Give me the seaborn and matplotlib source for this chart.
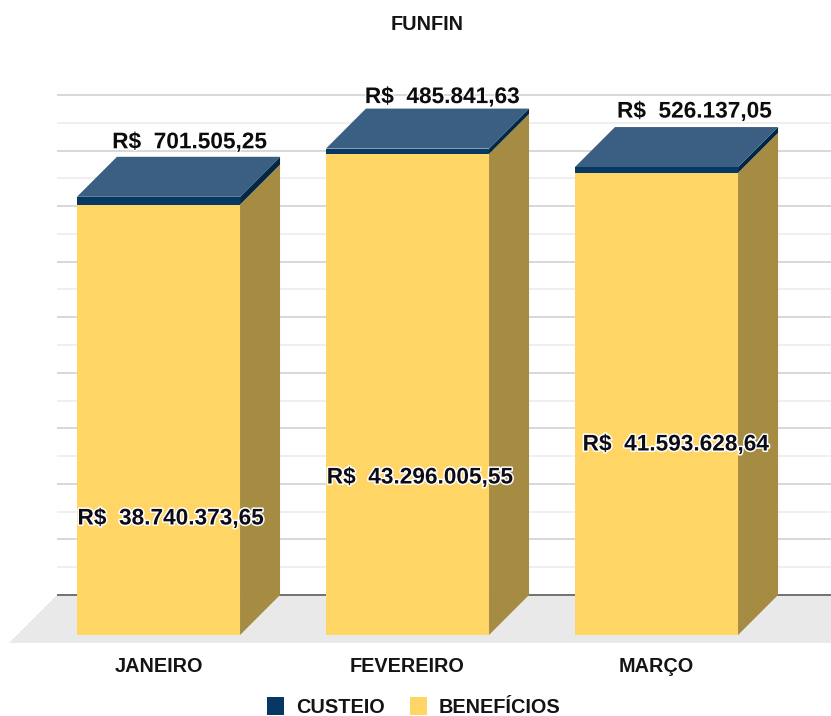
"""
FUNFIN chart: stacked bars with a painted 3D look.
"""
import numpy as np
import pandas as pd
import matplotlib
matplotlib.use("Agg")
import matplotlib.pyplot as plt
import matplotlib.patheffects as pe
from matplotlib.patches import Patch, Polygon
import seaborn as sns

months = ["JANEIRO", "FEVEREIRO", "MARÇO"]
beneficios = [38740373.65, 43296005.55, 41593628.64]
custeio = [701505.25, 485841.63, 526137.05]
grid_values = np.arange(2.5e6, 45.1e6, 2.5e6)

YELLOW = "#ffd666"
YELLOW_SIDE = "#a68c42"
NAVY = "#073763"
NAVY_TOP = "#3a5f82"
NAVY_SIDE = "#042645"

W, H = 831, 716
BASE_Y = 635        # pixel row of value 0 on the front plane
PX_PER_UNIT_Y = 11.11 / 1e6
PX_PER_BAR = 249
FIRST_CENTER = 158.5
DEPTH = 40


def brl(v):
    s = f"{v:,.2f}".replace(",", "X").replace(".", ",").replace("X", ".")
    return f"R$  {s}"


sns.set_theme(style="white")
plt.rcParams["font.family"] = ["Liberation Sans", "DejaVu Sans"]
plt.rcParams["font.weight"] = "bold"

df = pd.DataFrame({"mes": months, "beneficios": beneficios, "custeio": custeio})
df["total"] = df["beneficios"] + df["custeio"]

fig = plt.figure(figsize=(W / 100, H / 100), dpi=100)
ax = fig.add_axes([0, (H - BASE_Y) / H, 1, BASE_Y / H])

# stacked look: total underneath, benefits over it
sns.barplot(data=df, x="mes", y="total", color=NAVY, saturation=1, width=0.655, linewidth=0, ax=ax, zorder=5)
sns.barplot(data=df, x="mes", y="beneficios", color=YELLOW, saturation=1, width=0.655, linewidth=0, ax=ax, zorder=6)

ax.set_xlim(-FIRST_CENTER / PX_PER_BAR, (W - FIRST_CENTER) / PX_PER_BAR)
ax.set_ylim(0, BASE_Y / PX_PER_UNIT_Y)
dx = DEPTH / PX_PER_BAR
dy = DEPTH / PX_PER_UNIT_Y

left_wall = ax.get_xlim()[0] + 57 / PX_PER_BAR
right_wall = ax.get_xlim()[1]

# back wall grid
for i, v in enumerate(grid_values):
    ax.hlines(v + dy, left_wall, right_wall, color="#d2d2d2" if i % 2 else "#ececec", lw=1.2, zorder=1)

# floor
floor_low = -7.5 / PX_PER_UNIT_Y
floor_left = ax.get_xlim()[0] + 9 / PX_PER_BAR
ax.add_patch(Polygon([(left_wall, dy), (right_wall, dy), (right_wall, floor_low), (floor_left, floor_low)],
                     closed=True, fc="#e9e9e9", ec="none", clip_on=False, zorder=2))
ax.hlines(dy, left_wall, right_wall, color="#666666", lw=1.3, zorder=3)

# side and top faces, taken from the bars seaborn drew
n = len(months)
total_bars = ax.patches[:n]
for bar, ben in zip(total_bars, beneficios):
    x0, x1 = bar.get_x(), bar.get_x() + bar.get_width()
    top = bar.get_height()
    ax.add_patch(Polygon([(x1, 0), (x1 + dx, dy), (x1 + dx, ben + dy), (x1, ben)],
                         closed=True, fc=YELLOW_SIDE, ec="none", zorder=4))
    ax.add_patch(Polygon([(x1, ben), (x1 + dx, ben + dy), (x1 + dx, top + dy), (x1, top)],
                         closed=True, fc=NAVY_SIDE, ec="none", zorder=4))
    ax.add_patch(Polygon([(x0, top), (x0 + dx, top + dy), (x1 + dx, top + dy), (x1, top)],
                         closed=True, fc=NAVY_TOP, ec="none", zorder=4))

# value labels, pixel nudges from the bar centre
top_shift = [(31, 15), (35, 12), (38, 16)]
ben_shift = [(12.5, 117), (12.5, 158), (19.5, 191)]
halo = [pe.withStroke(linewidth=2.2, foreground="white")]
for i, (ben, cus, total) in enumerate(zip(beneficios, custeio, df["total"])):
    ax.annotate(brl(cus), (i, total + dy), xytext=top_shift[i], textcoords="offset pixels",
                ha="center", va="center", fontsize=16.3, color="#0c0c0c", zorder=8,
                path_effects=[pe.withStroke(linewidth=1.5, foreground="white")])
    ax.annotate(brl(ben), (i, 0), xytext=ben_shift[i], textcoords="offset pixels",
                ha="center", va="center", fontsize=16.3, color="#0c0c18", zorder=8, path_effects=halo)

ax.set_xlabel("")
ax.set_ylabel("")
ax.set_yticks([])
ax.tick_params(axis="x", length=0, pad=15.8, labelsize=14.3, labelcolor="#141414")
sns.despine(ax=ax, left=True, bottom=True)
ax.patch.set_alpha(0)

fig.text(427 / W, 1 - 25 / H, "FUNFIN", ha="center", va="center", fontsize=14.3, color="#141414")

handles = [Patch(fc=NAVY, ec="none", label="CUSTEIO"), Patch(fc=YELLOW, ec="none", label="BENEFÍCIOS")]
fig.legend(handles=handles, loc="center", bbox_to_anchor=(414 / W, 1 - 707 / H), ncol=2, frameon=False,
           fontsize=14.3, handlelength=0.85, handleheight=1.0, handletextpad=0.6, columnspacing=1.26,
           labelcolor="#141414", borderpad=0, borderaxespad=0)

fig.savefig("out.png", dpi=100)
